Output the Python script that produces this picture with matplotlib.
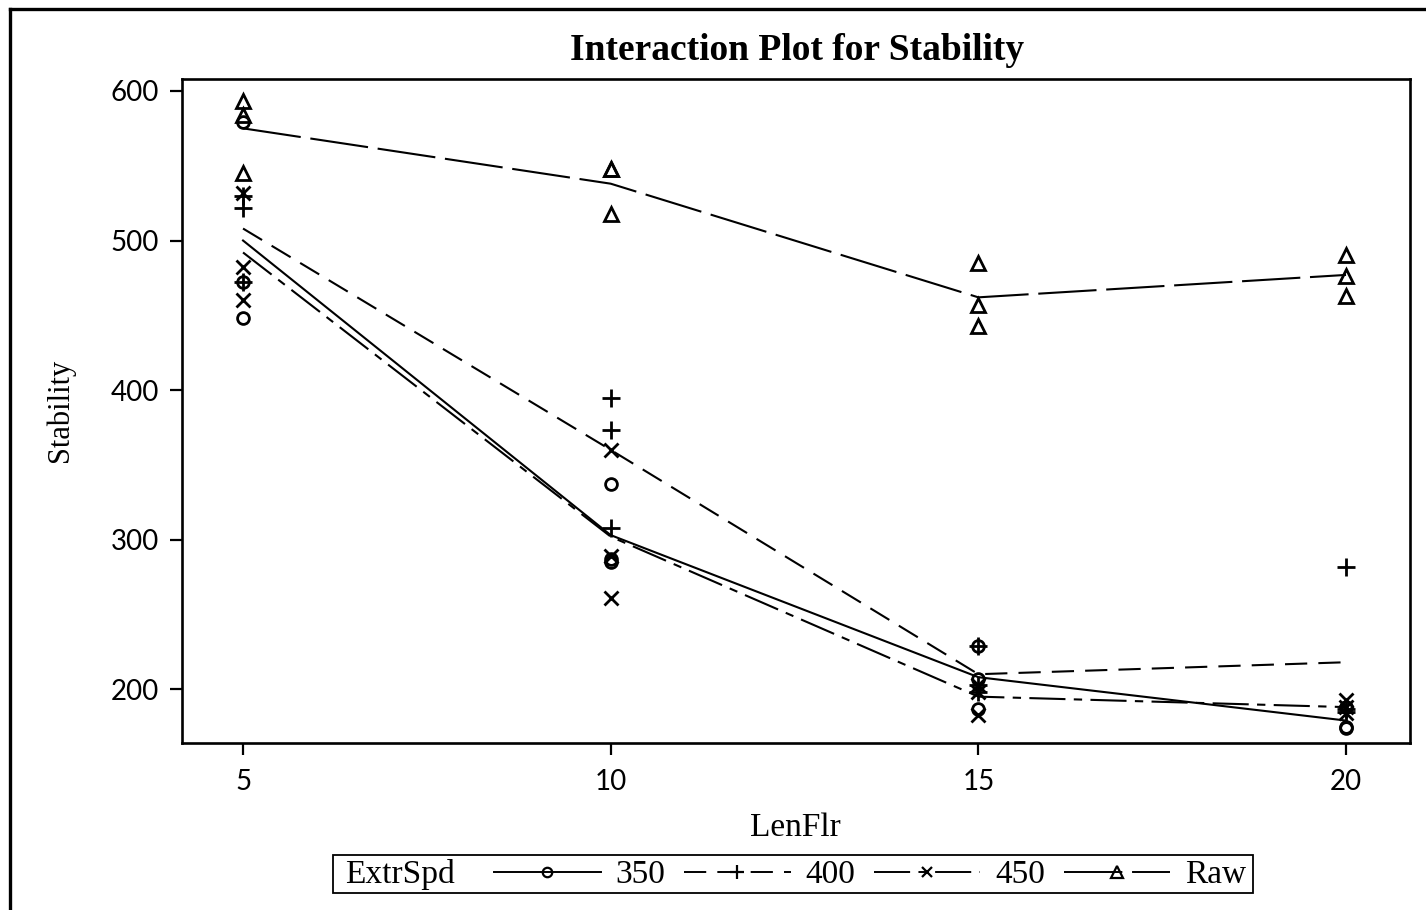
import numpy as np
import matplotlib
matplotlib.use("Agg")
import matplotlib.pyplot as plt
from matplotlib.lines import Line2D

# ---- data ----
lenflr = [5, 10, 15, 20]
groups = ["350", "400", "450", "Raw"]

obs_350 = [[579, 472, 448], [337, 287, 285], [229, 207, 187], [188, 175, 174]]
obs_400 = [[530, 522, 472], [395, 373, 308], [229, 203, 198], [282, 187, 185]]
obs_450 = [[532, 482, 460], [360, 289, 261], [203, 198, 183], [193, 188, 184]]
obs_raw = [[593, 584, 545], [548, 548, 518], [485, 457, 443], [490, 476, 463]]

mean_350 = [500, 303, 208, 179]
mean_400 = [508, 360, 210, 218]
mean_450 = [492, 302, 195, 188]
mean_raw = [575, 538, 462, 477]

yticks = [200, 300, 400, 500, 600]
xticks = [5, 10, 15, 20]

plt.rcParams['lines.scale_dashes'] = False
serif = "Liberation Serif"
sans = "Lato"

W, H = 1426, 910
fig = plt.figure(figsize=(W / 100, H / 100), dpi=100)
ax = fig.add_axes([182 / W, 1 - 743 / H, (1410 - 182) / W, (743 - 79) / H])

styles = {
    "350": dict(marker="o", ms=8.5, ls="-"),
    "400": dict(marker="+", ms=12.5, ls=(0, (16, 8))),
    "450": dict(marker="x", ms=9.5, ls=(0, (26, 6, 6, 6))),
    "Raw": dict(marker="^", ms=10, ls=(0, (42, 7))),
}
obs = {"350": obs_350, "400": obs_400, "450": obs_450, "Raw": obs_raw}
means = {"350": mean_350, "400": mean_400, "450": mean_450, "Raw": mean_raw}

handles = []
for g in groups:
    st = styles[g]
    o = np.array(obs[g], dtype=float)
    xs = np.repeat(lenflr, o.shape[1])
    ax.plot(xs, o.ravel(), linestyle="none", marker=st["marker"], ms=st["ms"],
            mfc="none", mec="black", mew=2.0, color="black", zorder=3)
    ax.plot(lenflr, means[g], linestyle=st["ls"], color="black", lw=1.5, zorder=2)
    handles.append(Line2D([], [], color="black", lw=1.4, linestyle=st["ls"],
                          marker=st["marker"], ms=st["ms"] * 0.8, mfc="none",
                          mec="black", mew=1.6, label=g))

ax.set_xlim(4.17, 20.87)
ax.set_ylim(164, 608)
ax.set_xticks(xticks)
ax.set_yticks(yticks)
ax.tick_params(direction="out", length=8.6, width=1.6, color="black",
               labelsize=20, pad=8)
ax.tick_params(axis="x", pad=10)
for lab in ax.get_xticklabels() + ax.get_yticklabels():
    lab.set_fontfamily(sans)
for sp in ax.spines.values():
    sp.set_linewidth(1.9)
    sp.set_color("black")

fig.text(797 / W, 1 - 51 / H, "Interaction Plot for Stability", ha="center",
         va="center", fontsize=27, fontweight="bold", family=serif)
fig.text(795 / W, 1 - 828 / H, "LenFlr", ha="center", va="center",
         fontsize=24, family=serif)
fig.text(60 / W, 1 - 410 / H, "Stability", ha="center", va="center",
         rotation=90, fontsize=22, family=serif)

# legend box
fig.patches.append(plt.Rectangle((333 / W, 1 - 893 / H), (1253 - 333) / W,
                                 (893 - 855) / H, transform=fig.transFigure,
                                 fill=False, edgecolor="black", lw=1.3))
fig.text(345 / W, 1 - 875 / H, "ExtrSpd", ha="left", va="center",
         fontsize=24, family=serif)
leg = fig.legend(handles=handles, loc="center left",
                 bbox_to_anchor=(494 / W, 1 - 875 / H), ncol=4, frameon=False,
                 handlelength=3.2, handletextpad=0.45, columnspacing=0.55,
                 borderaxespad=0, borderpad=0,
                 prop={"family": serif, "size": 24})

# outer border (left and top only visible)
fig.add_artist(Line2D([10 / W, 10 / W], [0, 1 - 9 / H], transform=fig.transFigure,
                      color="black", lw=2.4))
fig.add_artist(Line2D([10 / W, 1], [1 - 9 / H, 1 - 9 / H], transform=fig.transFigure,
                      color="black", lw=2.4))

fig.savefig("out.png", dpi=100)
